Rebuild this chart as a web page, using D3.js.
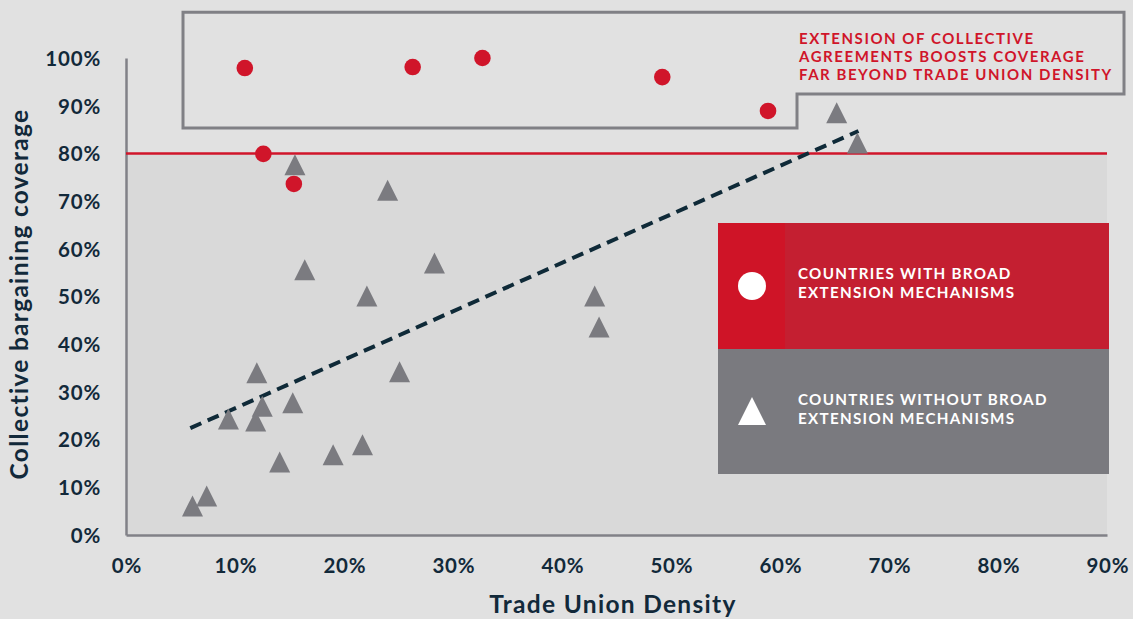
<!DOCTYPE html>
<html>
<head>
<meta charset="utf-8">
<script src="https://cdn.jsdelivr.net/npm/d3@7"></script>
<style>
  html, body { margin: 0; padding: 0; background: #e1e1e1; }
  svg { display: block; font-family: Lato, "Open Sans", sans-serif; }
</style>
</head>
<body>
<svg id="chart" width="1133" height="619"></svg>
<script>
// Countries with broad extension mechanisms: [trade union density %, bargaining coverage %]
const broadX = [10.9, 12.6, 15.4, 26.3, 32.7, 49.2, 58.9];
const broadY = [97.9, 79.9, 73.6, 98.1, 100.0, 96.0, 88.9];

// Countries without broad extension mechanisms
const noBroadX = [15.5, 24.0, 16.4, 28.3, 22.1, 43.0, 43.4, 12.0, 25.1, 12.5,
                  15.3, 9.4, 11.9, 14.1, 19.0, 21.7, 6.1, 7.4, 65.2, 67.1];
const noBroadY = [77.6, 72.3, 55.6, 57.0, 50.1, 50.1, 43.6, 34.0, 34.2, 27.0,
                  27.7, 24.3, 23.9, 15.3, 16.8, 18.9, 6.1, 8.2, 88.5, 82.2];

// Linear trend line end points
const trendX = [5.9, 67.2];
const trendY = [22.4, 84.7];

// Reference level for coverage
const thresholdY = 80;

// Tick values
const xTicks = [0, 10, 20, 30, 40, 50, 60, 70, 80, 90];
const yTicks = [0, 10, 20, 30, 40, 50, 60, 70, 80, 90, 100];

const calloutLines = ["EXTENSION OF COLLECTIVE", "AGREEMENTS BOOSTS COVERAGE", "FAR BEYOND TRADE UNION DENSITY"];
const legendBroad = ["COUNTRIES WITH BROAD", "EXTENSION MECHANISMS"];
const legendNoBroad = ["COUNTRIES WITHOUT BROAD", "EXTENSION MECHANISMS"];

const RED = "#d0152a";
const GRAY = "#7b7b80";
const NAVY = "#12293a";

const svg = d3.select("#chart");
const x = d3.scaleLinear().domain([0, 90]).range([126, 1107]);
const y = d3.scaleLinear().domain([0, 100]).range([535, 58]);

// Shaded zone below the reference level
svg.append("rect")
  .attr("x", x(0)).attr("y", y(thresholdY))
  .attr("width", x(90) - x(0)).attr("height", y(0) - y(thresholdY))
  .attr("fill", "#d9d9d9");

// Callout outline (drawn in chart units)
const callout = [[5.23, 109.6], [91.56, 109.6], [91.56, 92.45], [61.56, 92.45], [61.56, 85.3], [5.23, 85.3]];
svg.append("path")
  .attr("d", d3.line().x(d => x(d[0])).y(d => y(d[1]))(callout) + "Z")
  .attr("fill", "none").attr("stroke", "#808085").attr("stroke-width", 3);

svg.append("g").selectAll("text").data(calloutLines).join("text")
  .attr("x", 799).attr("y", (d, i) => 43.5 + i * 18)
  .attr("fill", RED).attr("font-weight", 700).attr("font-size", 15)
  .attr("letter-spacing", 1.55)
  .text(d => d);

// Axes
const xAxis = svg.append("g").attr("transform", `translate(0,${y(0)})`)
  .call(d3.axisBottom(x).tickValues(xTicks).tickSize(0).tickFormat(d => d + "%"));
xAxis.select(".domain").attr("stroke", "#818187").attr("stroke-width", 2.5);
xAxis.selectAll("text").attr("dy", 0).attr("y", 38).attr("dx", 0.4)
  .attr("fill", NAVY).attr("font-size", 20.5).attr("font-weight", 700).attr("font-family", "Lato")
  .attr("letter-spacing", 0.8);

const yAxis = svg.append("g").attr("transform", `translate(${x(0)},0)`)
  .call(d3.axisLeft(y).tickValues(yTicks).tickSize(0).tickFormat(d => d + "%"));
yAxis.select(".domain").attr("stroke", "#818187").attr("stroke-width", 2.5);
yAxis.selectAll("text").attr("x", -25).attr("dy", "0.36em")
  .attr("fill", NAVY).attr("font-size", 20.5).attr("font-weight", 700).attr("font-family", "Lato")
  .attr("letter-spacing", 0.8);

// Axis titles
svg.append("text")
  .attr("x", 613).attr("y", 613).attr("text-anchor", "middle")
  .attr("fill", NAVY).attr("font-size", 24.5).attr("font-weight", 700)
  .attr("letter-spacing", 1.3)
  .text("Trade Union Density");
svg.append("text")
  .attr("transform", "translate(28,294) rotate(-90)").attr("text-anchor", "middle")
  .attr("fill", NAVY).attr("font-size", 24.5).attr("font-weight", 700)
  .attr("letter-spacing", 1.3)
  .text("Collective bargaining coverage");

// Reference line at 80%
svg.append("line")
  .attr("x1", x(0)).attr("x2", x(90))
  .attr("y1", y(thresholdY)).attr("y2", y(thresholdY))
  .attr("stroke", RED).attr("stroke-width", 2.5);

// Trend line
svg.append("line")
  .attr("x1", x(trendX[0])).attr("y1", y(trendY[0]))
  .attr("x2", x(trendX[1])).attr("y2", y(trendY[1]))
  .attr("stroke", "#0f2a38").attr("stroke-width", 4)
  .attr("stroke-dasharray", "12 7");

// Triangle centred on its bounding box
const tri = (cx, cy, s) => `M${cx},${cy - s / 2}L${cx + s / 2},${cy + s / 2}L${cx - s / 2},${cy + s / 2}Z`;

svg.append("g").selectAll("path").data(d3.range(noBroadX.length)).join("path")
  .attr("d", i => tri(x(noBroadX[i]), y(noBroadY[i]), 21))
  .attr("fill", GRAY);

svg.append("g").selectAll("circle").data(d3.range(broadX.length)).join("circle")
  .attr("cx", i => x(broadX[i])).attr("cy", i => y(broadY[i]))
  .attr("r", 8.3).attr("fill", RED);

// Legend
const lg = svg.append("g");
lg.append("rect").attr("x", 718).attr("y", 223).attr("width", 391).attr("height", 126).attr("fill", "#c41f31");
lg.append("rect").attr("x", 718).attr("y", 223).attr("width", 67).attr("height", 126).attr("fill", "#cf1427");
lg.append("rect").attr("x", 718).attr("y", 349).attr("width", 391).attr("height", 125).attr("fill", "#7a7a7f");
lg.append("circle").attr("cx", 752).attr("cy", 286).attr("r", 14).attr("fill", "#fff");
lg.append("path").attr("d", tri(752, 411, 28)).attr("fill", "#fff");
lg.append("g").selectAll("text").data(legendBroad).join("text")
  .attr("x", 798).attr("y", (d, i) => 279 + i * 18.5)
  .attr("fill", "#fff").attr("font-size", 15.2).attr("font-weight", 700)
  .attr("letter-spacing", 1.3).text(d => d);
lg.append("g").selectAll("text").data(legendNoBroad).join("text")
  .attr("x", 798).attr("y", (d, i) => 405 + i * 18.5)
  .attr("fill", "#fff").attr("font-size", 15.2).attr("font-weight", 700)
  .attr("letter-spacing", 1.3).text(d => d);
</script>
</body>
</html>
